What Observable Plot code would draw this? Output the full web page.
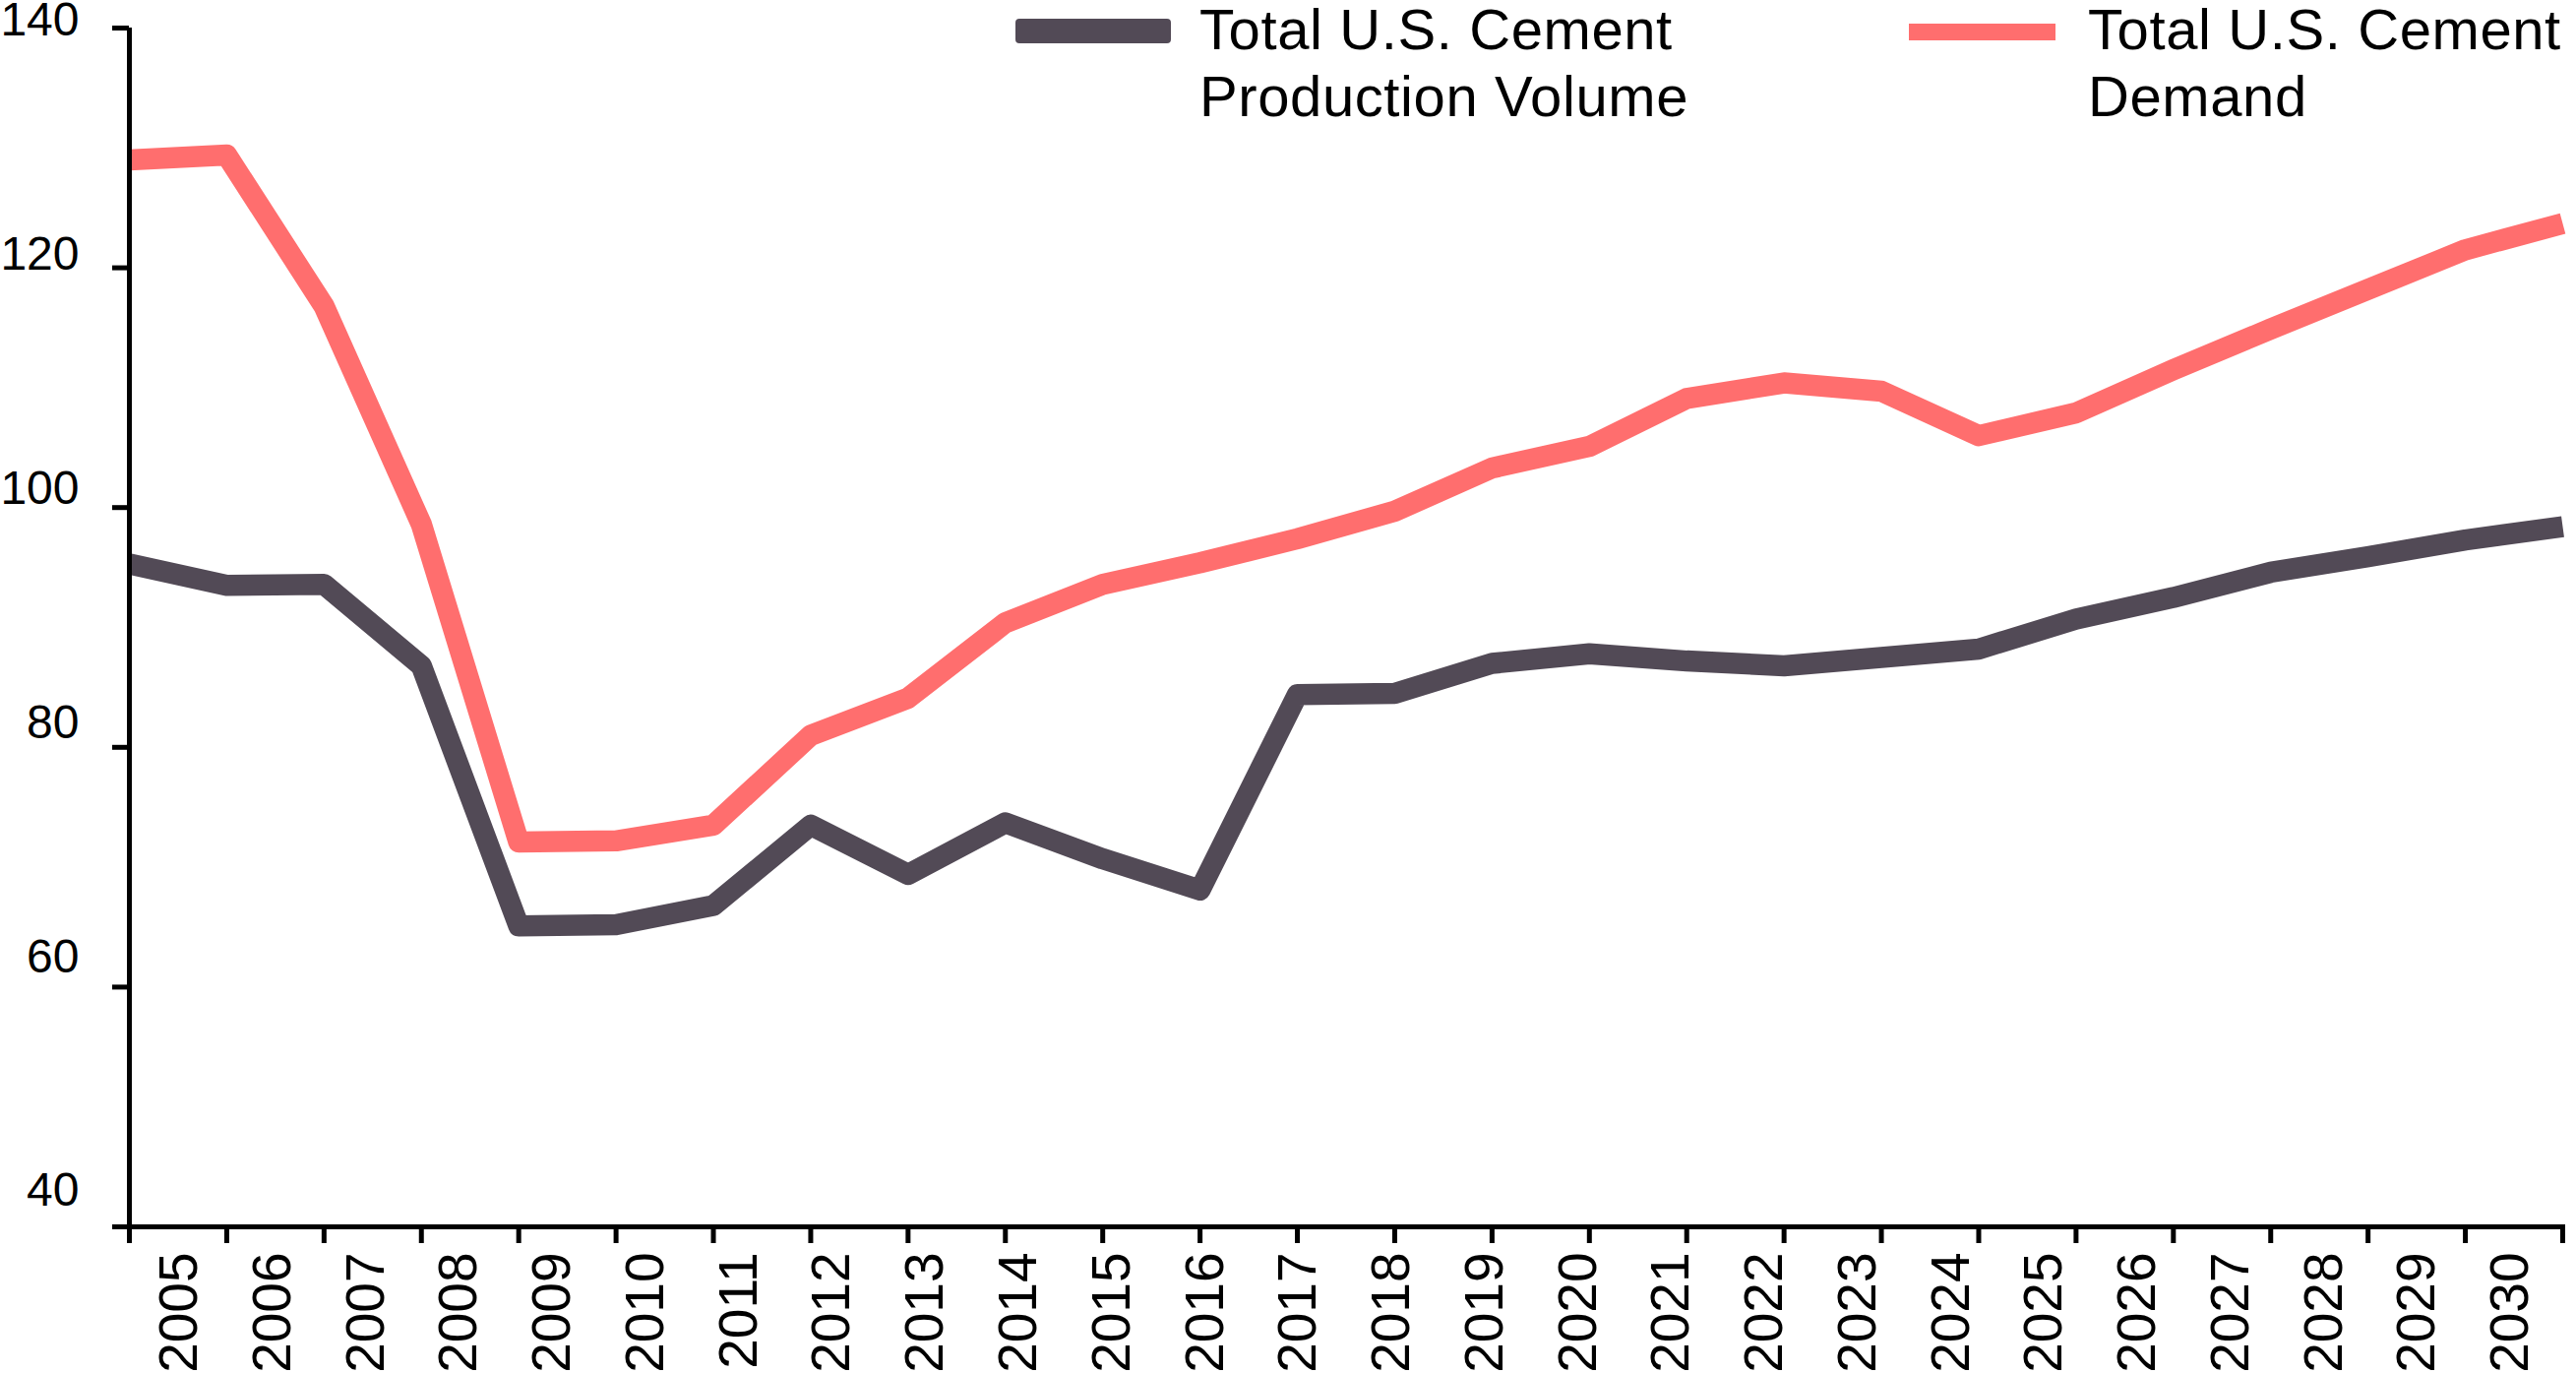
<!DOCTYPE html>
<html>
<head>
<meta charset="utf-8">
<script src="https://cdn.jsdelivr.net/npm/d3@7"></script>
<script src="https://cdn.jsdelivr.net/npm/@observablehq/plot@0.6"></script>
<style>
  html, body { margin: 0; padding: 0; background: #fff; }
  #wrap { position: relative; width: 2618px; height: 1395px; overflow: hidden; }
  .legend { position: absolute; top: 0; left: 0; font-family: "Liberation Sans", Arial, sans-serif; color: #000; }
  .sw { position: absolute; }
  .lt { position: absolute; font-size: 58px; line-height: 68px; letter-spacing: 0.6px; white-space: nowrap; }
</style>
</head>
<body>
<div id="wrap"></div>
<script>
const years = [2005,2006,2007,2008,2009,2010,2011,2012,2013,2014,2015,2016,2017,2018,2019,2020,2021,2022,2023,2024,2025,2026,2027,2028,2029,2030];
const production = [95.3,93.5,93.6,86.8,65.1,65.2,66.8,73.5,69.4,73.7,70.7,68.1,84.4,84.5,87.0,87.8,87.2,86.8,87.5,88.2,90.7,92.5,94.6,95.9,97.3,98.4];
const demand = [129.0,129.4,116.8,98.6,72.1,72.2,73.5,81.0,84.1,90.4,93.6,95.4,97.4,99.7,103.3,105.1,109.1,110.4,109.7,106.0,107.9,111.5,114.9,118.2,121.5,123.7];
const seriesNames = ["Total U.S. Cement Production Volume", "Total U.S. Cement Demand"];
const seriesColors = ["#524a56", "#ff6e6e"];
const yTicks = [40, 60, 80, 100, 120, 140];

const rows = [];
years.forEach((yr, i) => {
  rows.push({year: yr, value: production[i], series: seriesNames[0]});
  rows.push({year: yr, value: demand[i], series: seriesNames[1]});
});

const font = "Liberation Sans, Arial, sans-serif";
const x0 = years[0], x1 = years[years.length - 1];
const y0 = yTicks[0], y1 = yTicks[yTicks.length - 1];

// tick labels in the reference sit on a slightly compressed grid relative to the ticks
const xLabelPos = (yr) => x0 + 0.5156 + (yr - x0) * 0.958;
const yLabelPos = (v) => y1 + 0.62 - (y1 - v) * 0.9762;

const chart = Plot.plot({
  width: 2618,
  height: 1395,
  marginLeft: 131,
  marginRight: 14,
  marginTop: 28,
  marginBottom: 149,
  x: {domain: [x0, x1], axis: null},
  y: {domain: [y0, y1], axis: null},
  color: {domain: seriesNames, range: seriesColors},
  style: {fontFamily: font, background: "transparent", overflow: "visible"},
  marks: [
    Plot.line(rows, {x: "year", y: "value", z: "series", stroke: "series", strokeWidth: 21.5, strokeLinejoin: "round", strokeLinecap: "butt"}),
    // y axis line
    Plot.ruleX([x0], {x: d => d, y1: y0, y2: y1, stroke: "#000", strokeWidth: 5}),
    // y ticks
    Plot.ruleY(yTicks, {y: d => d, x1: x0, x2: x0, insetLeft: -17, stroke: "#000", strokeWidth: 5}),
    // x axis line
    Plot.ruleY([y0], {y: d => d, x1: x0, x2: x1, insetLeft: -17, insetRight: -3, stroke: "#000", strokeWidth: 5}),
    // x ticks
    Plot.ruleX(years, {x: d => d, y1: y0, y2: y0, insetBottom: -17, stroke: "#000", strokeWidth: 5}),
    // y labels
    Plot.text(yTicks, {x: x0, y: d => yLabelPos(d), text: d => String(d), dx: -51, textAnchor: "end", fontSize: 48, fontFamily: font, fill: "#000"}),
    // x labels
    Plot.text(years, {x: d => xLabelPos(d), y: y0, text: d => String(d), rotate: -90, textAnchor: "end", dy: 26, fontSize: 55, fontFamily: font, fill: "#000"})
  ]
});

const wrap = document.getElementById("wrap");
wrap.appendChild(chart);

// legend overlay
const legend = document.createElement("div");
legend.className = "legend";
legend.innerHTML = `
  <div class="sw" style="left:1032px;top:19px;width:158px;height:25px;border-radius:4px;background:${seriesColors[0]}"></div>
  <div class="lt" style="left:1219px;top:-4.1px">Total U.S. Cement<br>Production Volume</div>
  <div class="sw" style="left:1940px;top:24px;width:149px;height:17px;background:${seriesColors[1]}"></div>
  <div class="lt" style="left:2122px;top:-4.1px">Total U.S. Cement<br>Demand</div>
`;
wrap.appendChild(legend);
</script>
</body>
</html>
